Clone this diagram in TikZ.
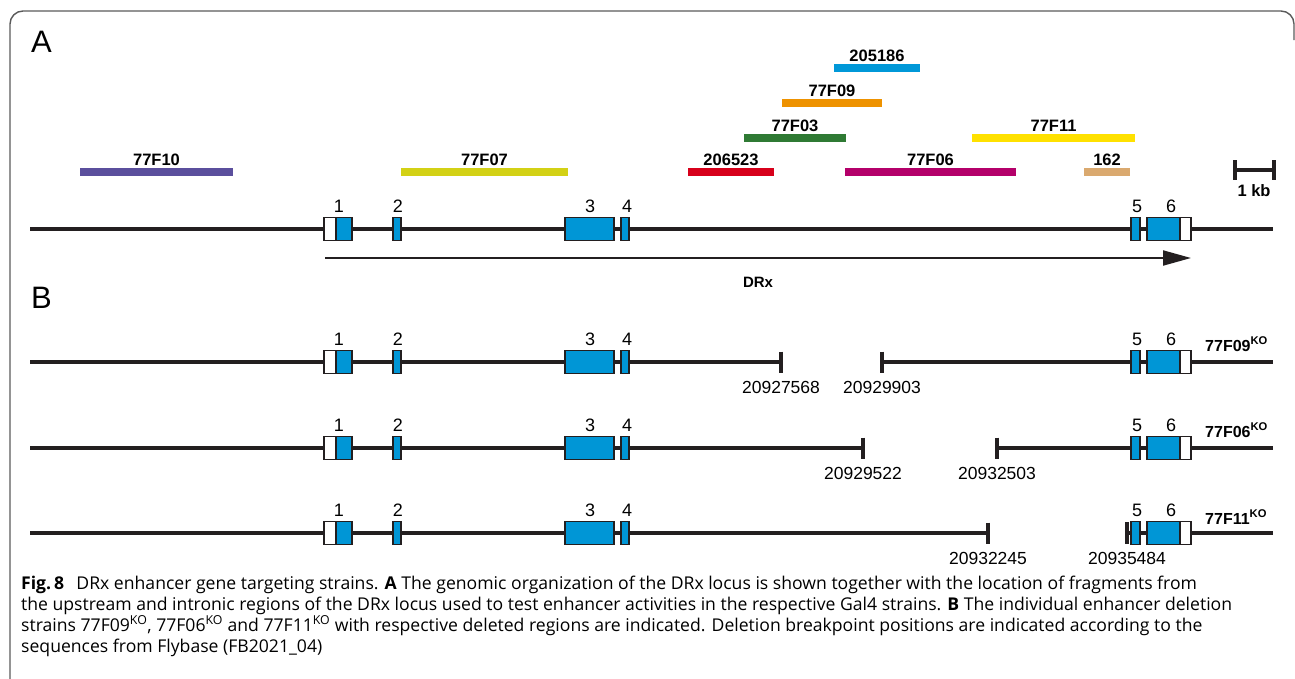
\documentclass[tikz,border=0pt]{standalone}
\usepackage{fontspec}
\setmainfont{Open Sans}
\newfontfamily\arialfont{Liberation Sans}
\usetikzlibrary{arrows.meta,positioning}
\definecolor{ink}{HTML}{231F20}
\definecolor{framegray}{HTML}{5A5A5A}
\definecolor{exonblue}{HTML}{0096D6}
\definecolor{fragpurple}{HTML}{5B4F9D}
\definecolor{fragolive}{HTML}{D3D115}
\definecolor{fragred}{HTML}{D7001B}
\definecolor{fragmagenta}{HTML}{B4006A}
\definecolor{fragtan}{HTML}{DAA96F}
\definecolor{fraggreen}{HTML}{2F7A34}
\definecolor{fragyellow}{HTML}{FFE100}
\definecolor{fragorange}{HTML}{EE9200}
\definecolor{fragblue}{HTML}{0098D8}
\tikzset{
  genome/.style={draw=ink,line width=4.8pt},
  exonbox/.style={draw=ink,fill=exonblue,line width=1.8pt},
  utrbox/.style={draw=ink,fill=white,line width=1.8pt},
  fragbar/.style={line width=8pt},
  bptick/.style={draw=ink,line width=3.5pt},
  panellabel/.style={font=\arialfont\fontsize{31}{31}\selectfont,anchor=base west,inner sep=0pt},
  exonnum/.style={font=\arialfont\fontsize{18}{18}\selectfont,anchor=base,inner sep=0pt},
  fraglabel/.style={font=\arialfont\bfseries\fontsize{16.5}{16.5}\selectfont,anchor=base,inner sep=0pt},
  bplabel/.style={font=\arialfont\fontsize{17.5}{17.5}\selectfont,anchor=base,inner sep=0pt},
  strainlabel/.style={font=\arialfont\bfseries\fontsize{16}{16}\selectfont,anchor=base west,inner sep=0pt},
  captionline/.style={font=\fontsize{17.6}{21}\selectfont,anchor=base west,inner sep=0pt},
  drxarr/.style={-{Triangle[length=28pt,width=15pt]},draw=ink,line width=2pt}
}

\begin{document}
\begin{tikzpicture}[x=1pt,y=-1pt]
  \useasboundingbox (0,0) rectangle (1295,678);
  % frame
  \draw[framegray,line width=1.4pt,rounded corners=13pt]
    (10,690) -- (10,11) -- (1294,11) -- (1294,40);

  % panel A
  \node[panellabel] (labA) at (31,52) {A};
  \foreach \xa/\xb/\fy/\fc/\ft in {80/233/172/fragpurple/77F10,401/568/172/fragolive/77F07,
      688/774/172/fragred/206523,845/1016/172/fragmagenta/77F06,1084/1130/172/fragtan/162,
      744/846/138/fraggreen/77F03,972/1135/138/fragyellow/77F11,782/882/103/fragorange/77F09,
      834/920/68/fragblue/205186}{
    \draw[fragbar,\fc] (\xa,\fy) -- (\xb,\fy);
    \node[fraglabel] (f\ft) at ({(\xa+\xb)/2},\fy-7) {\ft};
  }
  % scale bar
  \coordinate (kbl) at (1235,170);
  \coordinate (kbr) at (1274,170);
  \draw[bptick] (kbl) -- (kbr);
  \draw[bptick] (1235,160) -- (1235,180);
  \draw[bptick] (1274,160) -- (1274,180);
  \node[fraglabel] (kb) at (1254,196) {1 kb};

  \draw[genome] (30,229) -- (1273,229);
  \coordinate (drxstart) at (325,258);
  \coordinate (drxend) at (1191,258);
  \draw[drxarr] (drxstart) -- (drxend);
  \node[fraglabel,font=\arialfont\bfseries\fontsize{15}{15}\selectfont] (drx) at (758,287) {DRx};

  % panel B
  \node[panellabel] (labB) at (31,308) {B};
  \draw[genome] (30,362) -- (781,362);
  \draw[genome] (882,362) -- (1273,362);
  \draw[genome] (30,448) -- (863,448);
  \draw[genome] (997,448) -- (1273,448);
  \draw[genome] (30,533) -- (988,533);
  \draw[genome] (1128,533) -- (1273,533);
  \foreach \bx/\by/\bn in {781/362/20927568,882/362/20929903,863/448/20929522,
      997/448/20932503,988/533/20932245}{
    \draw[bptick] (\bx,\by-10.5) -- (\bx,\by+10.5);
    \node[bplabel] (bp\bn) at (\bx,\by+31) {\bn};
  }
  \draw[bptick,line width=4.5pt] (1127,522) -- (1127,544);
  \node[bplabel] (bp20935484) at (1127,564) {20935484};

  % exons in every row
  \foreach \ry/\rn in {229/a,362/b,448/c,533/d}{
    \foreach \xa/\xb/\st in {324/336/utrbox,336/352/exonbox,393/401/exonbox,565/614/exonbox,
        621/629/exonbox,1131/1140/exonbox,1147/1180/exonbox,1180/1191/utrbox}
      \draw[\st] (\xa,\ry-11.5) rectangle (\xb,\ry+11.5);
    \foreach \nx/\nn in {339/1,398/2,590/3,627/4,1137/5,1171/6}
      \node[exonnum] (n\rn\nn) at (\nx,\ry-17) {\nn};
  }
  \node[strainlabel] (ko09) at (1205,351) {77F09\textsuperscript{KO}};
  \node[strainlabel] (ko06) at (1205,437) {77F06\textsuperscript{KO}};
  \node[strainlabel] (ko11) at (1205,524) {77F11\textsuperscript{KO}};

  % caption
  \node[captionline] (cap1) at (21,589) {\textbf{Fig.\,8}\hspace{0.7em}DRx enhancer gene targeting strains. \textbf{A} The genomic organization of the DRx locus is shown together with the location of fragments from};
  \node[captionline] (cap2) at (21,610) {the upstream and intronic regions of the DRx locus used to test enhancer activities in the respective Gal4 strains. \textbf{B} The individual enhancer deletion};
  \node[captionline] (cap3) at (21,631) {strains 77F09\textsuperscript{KO}, 77F06\textsuperscript{KO} and 77F11\textsuperscript{KO} with respective deleted regions are indicated. Deletion breakpoint positions are indicated according to the};
  \node[captionline] (cap4) at (21,652) {sequences from Flybase (FB2021\_04)};
\end{tikzpicture}
\end{document}
